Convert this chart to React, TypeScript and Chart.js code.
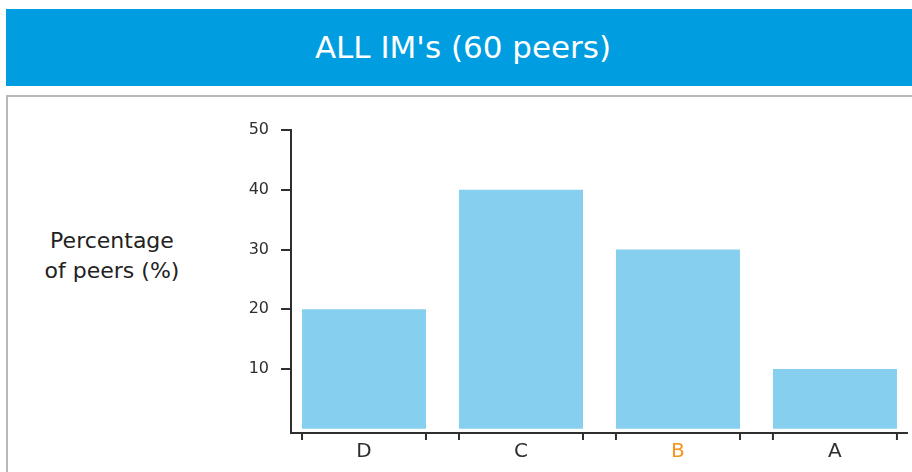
import React, { useEffect, useRef } from "react";
import { Chart, registerables } from "chart.js";

Chart.register(...registerables);

const titleText = "ALL IM's (60 peers)";
const axisTitleLines = ["Percentage", "of peers (%)"];
const categories = ["D", "C", "B", "A"];
const values = [20, 40, 30, 10];
const yTicks = [10, 20, 30, 40, 50];
const highlightCategory = "B";

const BAR_COLOR = "#86CFEF";
const AXIS_COLOR = "#2f2f2f";
const HIGHLIGHT = "#F7941D";
const FONT = "'DejaVu Sans', sans-serif";

const edgeTicks = {
  id: "edgeTicks",
  afterDatasetsDraw(chart: any) {
    const meta = chart.getDatasetMeta(0);
    const ctx = chart.ctx;
    const bottom = chart.chartArea.bottom;
    ctx.save();
    ctx.strokeStyle = AXIS_COLOR;
    ctx.lineWidth = 2;
    meta.data.forEach((el: any) => {
      const half = el.width / 2;
      [el.x - half, el.x + half].forEach((px) => {
        ctx.beginPath();
        ctx.moveTo(px, bottom);
        ctx.lineTo(px, bottom + 7);
        ctx.stroke();
      });
    });
    ctx.restore();
  },
};

export default function App() {
  const ref = useRef<HTMLCanvasElement | null>(null);

  useEffect(() => {
    if (!ref.current) return;
    const chart = new Chart(ref.current, {
      type: "bar",
      data: {
        datasets: [
          {
            data: categories.map((c, i) => ({ x: i, y: values[i] })),
            backgroundColor: BAR_COLOR,
            borderWidth: 0,
            barPercentage: 0.79,
            categoryPercentage: 1,
          },
        ],
      },
      options: {
        responsive: false,
        animation: false,
        devicePixelRatio: 1,
        layout: { padding: { top: 130, right: 5, left: 0, bottom: 0 } },
        plugins: { legend: { display: false }, tooltip: { enabled: false }, title: { display: false } },
        scales: {
          x: {
            type: "linear",
            offset: false,
            min: -0.465,
            max: 3.459,
            afterBuildTicks: (s: any) => {
              s.ticks = categories.map((_, i) => ({ value: i }));
            },
            afterFit: (s: any) => {
              s.height = 39;
            },
            ticks: {
              autoSkip: false,
              maxRotation: 0,
              padding: 7,
              font: { family: FONT, size: 20 },
              color: (ctx: any) =>
                categories[ctx.index] === highlightCategory ? HIGHLIGHT : AXIS_COLOR,
              callback: (v: any) => categories[v] ?? "",
            },
            grid: { display: true, offset: false, drawOnChartArea: false, drawTicks: false },
            border: { display: true, color: AXIS_COLOR, width: 2 },
          },
          y: {
            min: -0.7,
            max: 50,
            afterBuildTicks: (s: any) => {
              s.ticks = yTicks.map((v) => ({ value: v }));
            },
            afterFit: (s: any) => {
              s.width = 291;
            },
            ticks: {
              padding: 12,
              font: { family: FONT, size: 16 },
              color: AXIS_COLOR,
            },
            grid: { drawOnChartArea: false, tickLength: 10, color: AXIS_COLOR, lineWidth: 2 },
            border: { display: true, color: AXIS_COLOR, width: 2 },
          },
        },
      },
      plugins: [edgeTicks],
    });
    return () => chart.destroy();
  }, []);

  return (
    <div
      style={{
        position: "fixed",
        left: 0,
        top: 0,
        width: 912,
        height: 472,
        overflow: "hidden",
        background: "#ffffff",
      }}
    >
      <div
        style={{
          position: "absolute",
          left: 6,
          top: 9,
          width: 910,
          height: 77,
          background: "#009EE0",
          color: "#ffffff",
          fontFamily: FONT,
          fontSize: 31,
          display: "flex",
          alignItems: "center",
          justifyContent: "center",
          paddingLeft: 4,
          paddingBottom: 2,
          boxSizing: "border-box",
        }}
      >
        {titleText}
      </div>
      <div
        style={{
          position: "absolute",
          left: 6,
          top: 95,
          width: 930,
          height: 420,
          border: "2px solid #b8b8b8",
          boxSizing: "border-box",
        }}
      />
      <div
        style={{
          position: "absolute",
          left: 22,
          top: 226,
          width: 180,
          textAlign: "center",
          fontFamily: FONT,
          fontSize: 22,
          lineHeight: "30px",
          color: "#222222",
        }}
      >
        {axisTitleLines.map((l) => (
          <div key={l}>{l}</div>
        ))}
      </div>
      <canvas
        ref={ref}
        width={912}
        height={472}
        style={{ position: "absolute", left: 0, top: 0, width: 912, height: 472 }}
      />
    </div>
  );
}
